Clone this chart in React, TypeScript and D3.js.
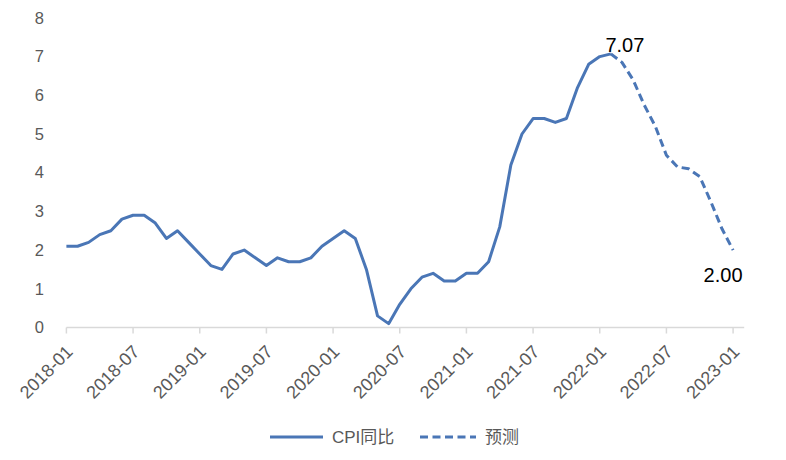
import React from "react";
import * as d3 from "d3";

const tickLabels = ["2018-01","2018-07","2019-01","2019-07","2020-01","2020-07","2021-01","2021-07","2022-01","2022-07","2023-01"];
const yTicks = [0,1,2,3,4,5,6,7,8];

// CPI同比, monthly from 2018-01 to 2022-02
const actual = [
  2.1, 2.1, 2.2, 2.4, 2.5, 2.8, 2.9, 2.9, 2.7, 2.3, 2.5, 2.2,
  1.9, 1.6, 1.5, 1.9, 2.0, 1.8, 1.6, 1.8, 1.7, 1.7, 1.8, 2.1,
  2.3, 2.5, 2.3, 1.5, 0.3, 0.1, 0.6, 1.0, 1.3, 1.4, 1.2, 1.2,
  1.4, 1.4, 1.7, 2.6, 4.2, 5.0, 5.4, 5.4, 5.3, 5.4, 6.2, 6.8,
  7.0, 7.07,
];
// 预测, monthly from 2022-02 to 2023-01
const forecastStart = 49;
const forecast = [7.07, 6.85, 6.4, 5.75, 5.2, 4.45, 4.15, 4.1, 3.9, 3.25, 2.55, 2.0];

const W = 786, H = 460;
const BLUE = "#4A76B6";
const GRAY = "#595959";
const FONT = "'Liberation Sans', 'Noto Sans CJK SC', sans-serif";

export default function App() {
  const x = d3.scaleLinear().domain([0, 61]).range([66.4, 744.2]);
  const y = d3.scaleLinear().domain([0, 8]).range([327.5, 17.9]);
  const line = d3.line<number>().x((_, i) => x(i)).y(d => y(d));
  const fline = d3.line<number>().x((_, i) => x(i + forecastStart)).y(d => y(d));
  const peakI = actual.length - 1;
  const lastI = forecastStart + forecast.length - 1;

  return (
    <svg width={W} height={H} style={{ position: "absolute", left: 0, top: 0, background: "#fff" }} fontFamily={FONT}>
      {/* x axis */}
      <line x1={x(0)} x2={x(61)} y1={y(0)} y2={y(0)} stroke="#D9D9D9" strokeWidth={1.5} />
      {tickLabels.map((t, k) => {
        const xi = x(k * 6);
        return (
          <g key={t}>
            <line x1={xi} x2={xi} y1={y(0)} y2={y(0) + 6} stroke="#D9D9D9" strokeWidth={1.5} />
            <text transform={`translate(${xi + 3},${y(0) + 21}) rotate(-45)`} textAnchor="end" dy="0.35em" fontSize={18} fill={GRAY}>{t}</text>
          </g>
        );
      })}
      {/* y labels */}
      {yTicks.map(v => (
        <text key={v} x={44} y={y(v)} dy="0.35em" textAnchor="end" fontSize={16.5} fill={GRAY}>{v}</text>
      ))}
      {/* lines */}
      <path d={line(actual) || ""} fill="none" stroke={BLUE} strokeWidth={3} strokeLinejoin="round" />
      <path d={fline(forecast) || ""} fill="none" stroke={BLUE} strokeWidth={3} strokeDasharray="8,4.5" strokeLinejoin="round" />
      {/* data labels */}
      <text x={x(peakI) + 14} y={y(actual[peakI]) - 2} textAnchor="middle" fontSize={20} fill="#000">{actual[peakI].toFixed(2)}</text>
      <text x={x(lastI) - 10} y={y(forecast[forecast.length - 1]) + 32} textAnchor="middle" fontSize={20} fill="#000">{forecast[forecast.length - 1].toFixed(2)}</text>
      {/* legend */}
      <line x1={270} x2={323} y1={437} y2={437} stroke={BLUE} strokeWidth={3} />
      <text x={332} y={437} dy="0.35em" fontSize={17} fill={GRAY}>CPI同比</text>
      <line x1={420} x2={476} y1={437} y2={437} stroke={BLUE} strokeWidth={3} strokeDasharray="8,4.5" />
      <text x={485} y={437} dy="0.35em" fontSize={17} fill={GRAY}>预测</text>
    </svg>
  );
}
